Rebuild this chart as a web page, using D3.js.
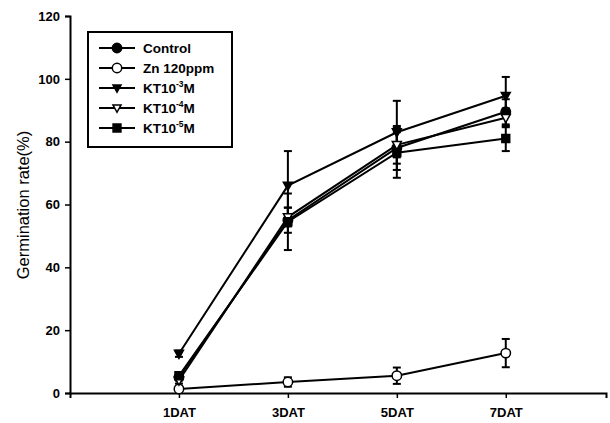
<!DOCTYPE html>
<html>
<head>
<meta charset="utf-8">
<script src="https://cdn.jsdelivr.net/npm/d3@7"></script>
<style>
  body { margin: 0; background: #fff; }
  svg { font-family: Arial, "Liberation Sans", sans-serif; }
</style>
</head>
<body>
<svg id="chart" width="610" height="423"></svg>
<script>
// data
var days = ['1DAT', '3DAT', '5DAT', '7DAT'];
var yTicks = [0, 20, 40, 60, 80, 100, 120];

var control = [5, 55, 78, 89.5];
var controlErr = [1, 4, 7, 4];
var zn = [1.3, 3.5, 5.5, 12.7];
var znErr = [0.5, 1.5, 2.6, 4.5];
var kt3 = [12.5, 66, 83, 94.6];
var kt3Err = [1, 11, 10, 6];
var kt4 = [4, 56, 79, 87.6];
var kt4Err = [1, 3, 4, 3];
var kt5 = [5.5, 54.5, 76.5, 81];
var kt5Err = [1, 9, 8, 4];

var series = [
  {name: 'Control', sup: null, vals: control, err: controlErr, shape: d3.symbolCircle, fill: '#000'},
  {name: 'Zn 120ppm', sup: null, vals: zn, err: znErr, shape: d3.symbolCircle, fill: '#fff'},
  {name: 'KT10', sup: '-3', vals: kt3, err: kt3Err, shape: 'tri', fill: '#000'},
  {name: 'KT10', sup: '-4', vals: kt4, err: kt4Err, shape: 'tri', fill: '#fff'},
  {name: 'KT10', sup: '-5', vals: kt5, err: kt5Err, shape: d3.symbolSquare, fill: '#000'}
];

var svg = d3.select('#chart');
var mLeft = 70, mTop = 16, mBottom = 393, mRight = 606;

var x = d3.scaleLinear().domain([0, 4.92]).range([mLeft, mRight]);
var y = d3.scaleLinear().domain([0, 120]).range([mBottom, mTop]);

// axes
var yAxis = d3.axisLeft(y).tickValues(yTicks).tickSize(5).tickPadding(5);
var gy = svg.append('g').attr('transform', 'translate(' + mLeft + ',0)').call(yAxis);
var xAxis = d3.axisBottom(x).tickValues([1, 2, 3, 4])
  .tickFormat(function (d) { return days[d - 1]; }).tickSize(5).tickPadding(10);
var gx = svg.append('g').attr('transform', 'translate(0,' + mBottom + ')').call(xAxis);

[gx, gy].forEach(function (g) {
  g.select('.domain').attr('stroke', '#000').attr('stroke-width', 2);
  g.selectAll('.tick line').attr('stroke', '#000').attr('stroke-width', 1.5);
  g.selectAll('.tick text').attr('fill', '#000').attr('font-size', 13).attr('font-weight', 'bold');
});

svg.append('text')
  .attr('transform', 'translate(29,' + 205 + ') rotate(-90)')
  .attr('text-anchor', 'middle')
  .attr('font-size', 16.5)
  .text('Germination rate(%)');

function marker(g, s, size) {
  if (s.shape === 'tri') {
    var h = size * 0.9;
    g.append('path')
      .attr('d', 'M' + (-h) + ',' + (-h * 0.75) + 'L' + h + ',' + (-h * 0.75) + 'L0,' + (h * 1.05) + 'Z')
      .attr('fill', s.fill).attr('stroke', '#000').attr('stroke-width', 1.5);
  } else {
    g.append('path')
      .attr('d', d3.symbol().type(s.shape).size(s.shape === d3.symbolSquare ? 62 : 70)())
      .attr('fill', s.fill).attr('stroke', '#000').attr('stroke-width', 1.5);
  }
}

var line = d3.line()
  .x(function (d, i) { return x(i + 1); })
  .y(function (d) { return y(d); });

// error bars
series.forEach(function (s) {
  var g = svg.append('g');
  s.vals.forEach(function (v, i) {
    var cx = x(i + 1), y1 = y(v + s.err[i]), y2 = y(v - s.err[i]);
    g.append('line').attr('x1', cx).attr('x2', cx).attr('y1', y1).attr('y2', y2)
      .attr('stroke', '#000').attr('stroke-width', 2);
    [y1, y2].forEach(function (yy) {
      g.append('line').attr('x1', cx - 4).attr('x2', cx + 4).attr('y1', yy).attr('y2', yy)
        .attr('stroke', '#000').attr('stroke-width', 2);
    });
  });
});

// lines
series.forEach(function (s) {
  svg.append('path').datum(s.vals).attr('d', line)
    .attr('fill', 'none').attr('stroke', '#000').attr('stroke-width', 2);
});

// markers
series.forEach(function (s) {
  s.vals.forEach(function (v, i) {
    var g = svg.append('g').attr('transform', 'translate(' + x(i + 1) + ',' + y(v) + ')');
    marker(g, s, 5);
  });
});

// legend
var lg = svg.append('g');
lg.append('rect').attr('x', 88).attr('y', 32).attr('width', 144).attr('height', 115)
  .attr('fill', '#fff').attr('stroke', '#000').attr('stroke-width', 2);
series.forEach(function (s, i) {
  var ly = 48 + i * 20;
  lg.append('line').attr('x1', 99).attr('x2', 135).attr('y1', ly).attr('y2', ly)
    .attr('stroke', '#000').attr('stroke-width', 2);
  marker(lg.append('g').attr('transform', 'translate(117,' + ly + ')'), s, 4.5);
  var t = lg.append('text').attr('x', 143).attr('y', ly + 5)
    .attr('font-size', 13.5).attr('font-weight', 'bold').text(s.name);
  if (s.sup) {
    t.append('tspan').attr('dy', -6).attr('font-size', 8.5).text(s.sup);
    t.append('tspan').attr('dy', 6).text('M');
  }
});
</script>
</body>
</html>
